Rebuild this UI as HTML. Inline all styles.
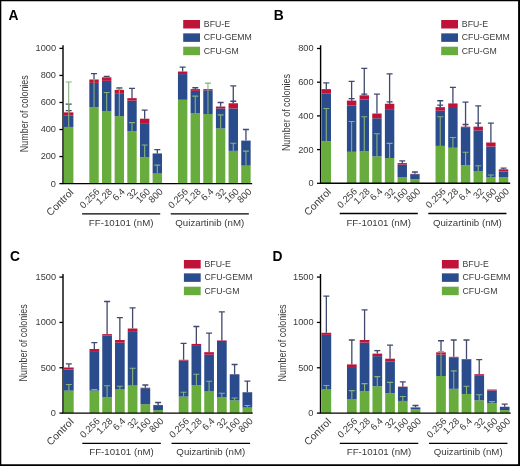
<!DOCTYPE html>
<html><head><meta charset="utf-8"><style>
html,body{margin:0;padding:0;background:#fff;}
body{width:520px;height:466px;overflow:hidden;}
svg{display:block;filter:blur(0.3px);}
</style></head><body>
<svg width="520" height="466" viewBox="0 0 520 466" font-family='"Liberation Sans", sans-serif'>
<rect x="0" y="0" width="520" height="466" fill="#fff"/>
<g id="panelA">
<text x="8.6" y="19.7" font-size="13.8" font-weight="bold" fill="#000">A</text>
<rect x="183.2" y="20" width="16.8" height="8.5" fill="#bf1238"/>
<text transform="translate(203.8 26.9) scale(0.95 1)" font-size="9.2" fill="#3a3a3a">BFU-E</text>
<rect x="183.2" y="33.35" width="16.8" height="8.5" fill="#2b4c8c"/>
<text transform="translate(203.8 40.25) scale(0.95 1)" font-size="9.2" fill="#3a3a3a">CFU-GEMM</text>
<rect x="183.2" y="46.7" width="16.8" height="8.5" fill="#68ac3e"/>
<text transform="translate(203.8 53.6) scale(0.95 1)" font-size="9.2" fill="#3a3a3a">CFU-GM</text>
<rect x="64" y="126.95" width="9.4" height="56.65" fill="#68ac3e"/>
<rect x="64" y="115.73" width="9.4" height="11.22" fill="#2b4c8c"/>
<rect x="64" y="112.35" width="9.4" height="3.38" fill="#bf1238"/>
<path d="M68.7 112.35V104.1M65.7 104.1H71.7" stroke="#3f4a6e" stroke-width="1.3" fill="none"/>
<path d="M68.7 112.35V110.59M65.7 110.59H71.7" stroke="#3f4a6e" stroke-width="1.3" fill="none"/>
<path d="M68.7 126.95V81.93M65.7 81.93H71.7" stroke="#86b27a" stroke-width="1.1" fill="none"/>
<text x="74.1" y="193" font-size="10.3" fill="#3a3a3a" text-anchor="end" transform="rotate(-45 74.1 193)">Control</text>
<rect x="89.32" y="107.08" width="9.4" height="76.52" fill="#68ac3e"/>
<rect x="89.32" y="82.88" width="9.4" height="24.2" fill="#2b4c8c"/>
<rect x="89.32" y="79.5" width="9.4" height="3.38" fill="#bf1238"/>
<path d="M94.02 79.5V73.68M91.02 73.68H97.02" stroke="#3f4a6e" stroke-width="1.3" fill="none"/>
<path d="M94.02 107.08V79.5M91.02 79.5H97.02" stroke="#86b27a" stroke-width="1.1" fill="none"/>
<text x="100.22" y="192.2" font-size="9.5" fill="#3a3a3a" text-anchor="end" transform="rotate(-45 100.22 192.2)">0.256</text>
<rect x="101.98" y="111" width="9.4" height="72.6" fill="#68ac3e"/>
<rect x="101.98" y="80.85" width="9.4" height="30.15" fill="#2b4c8c"/>
<rect x="101.98" y="77.33" width="9.4" height="3.52" fill="#bf1238"/>
<path d="M106.68 77.33V76.39M103.68 76.39H109.68" stroke="#3f4a6e" stroke-width="1.3" fill="none"/>
<path d="M106.68 111V92.48M103.68 92.48H109.68" stroke="#86b27a" stroke-width="1.1" fill="none"/>
<text x="112.88" y="192.2" font-size="9.5" fill="#3a3a3a" text-anchor="end" transform="rotate(-45 112.88 192.2)">1.28</text>
<rect x="114.64" y="116.14" width="9.4" height="67.46" fill="#68ac3e"/>
<rect x="114.64" y="93.83" width="9.4" height="22.31" fill="#2b4c8c"/>
<rect x="114.64" y="89.91" width="9.4" height="3.92" fill="#bf1238"/>
<path d="M119.34 89.91V88.01M116.34 88.01H122.34" stroke="#3f4a6e" stroke-width="1.3" fill="none"/>
<path d="M119.34 116.14V88.96M116.34 88.96H122.34" stroke="#86b27a" stroke-width="1.1" fill="none"/>
<text x="125.54" y="192.2" font-size="9.5" fill="#3a3a3a" text-anchor="end" transform="rotate(-45 125.54 192.2)">6.4</text>
<rect x="127.3" y="131.14" width="9.4" height="52.46" fill="#68ac3e"/>
<rect x="127.3" y="100.59" width="9.4" height="30.56" fill="#2b4c8c"/>
<rect x="127.3" y="98.15" width="9.4" height="2.43" fill="#bf1238"/>
<path d="M132 98.15V88.28M129 88.28H135" stroke="#3f4a6e" stroke-width="1.3" fill="none"/>
<path d="M132 131.14V122.62M129 122.62H135" stroke="#86b27a" stroke-width="1.1" fill="none"/>
<text x="138.2" y="192.2" font-size="9.5" fill="#3a3a3a" text-anchor="end" transform="rotate(-45 138.2 192.2)">32</text>
<rect x="139.96" y="157.37" width="9.4" height="26.23" fill="#68ac3e"/>
<rect x="139.96" y="123.84" width="9.4" height="33.53" fill="#2b4c8c"/>
<rect x="139.96" y="118.7" width="9.4" height="5.14" fill="#bf1238"/>
<path d="M144.66 118.7V110.19M141.66 110.19H147.66" stroke="#3f4a6e" stroke-width="1.3" fill="none"/>
<path d="M144.66 157.37V144.93M141.66 144.93H147.66" stroke="#86b27a" stroke-width="1.1" fill="none"/>
<text x="150.86" y="192.2" font-size="9.5" fill="#3a3a3a" text-anchor="end" transform="rotate(-45 150.86 192.2)">160</text>
<rect x="152.62" y="173.6" width="9.4" height="10" fill="#68ac3e"/>
<rect x="152.62" y="153.45" width="9.4" height="20.14" fill="#2b4c8c"/>
<path d="M157.32 153.45V149.53M154.32 149.53H160.32" stroke="#3f4a6e" stroke-width="1.3" fill="none"/>
<path d="M157.32 173.6V165.08M154.32 165.08H160.32" stroke="#86b27a" stroke-width="1.1" fill="none"/>
<text x="163.52" y="192.2" font-size="9.5" fill="#3a3a3a" text-anchor="end" transform="rotate(-45 163.52 192.2)">800</text>
<rect x="177.94" y="99.78" width="9.4" height="83.82" fill="#68ac3e"/>
<rect x="177.94" y="74.09" width="9.4" height="25.69" fill="#2b4c8c"/>
<rect x="177.94" y="71.52" width="9.4" height="2.57" fill="#bf1238"/>
<path d="M182.64 71.52V67.19M179.64 67.19H185.64" stroke="#3f4a6e" stroke-width="1.3" fill="none"/>
<text x="188.84" y="192.2" font-size="9.5" fill="#3a3a3a" text-anchor="end" transform="rotate(-45 188.84 192.2)">0.256</text>
<rect x="190.6" y="113.03" width="9.4" height="70.57" fill="#68ac3e"/>
<rect x="190.6" y="90.85" width="9.4" height="22.17" fill="#2b4c8c"/>
<rect x="190.6" y="89.1" width="9.4" height="1.76" fill="#bf1238"/>
<path d="M195.3 89.1V87.74M192.3 87.74H198.3" stroke="#3f4a6e" stroke-width="1.3" fill="none"/>
<path d="M195.3 113.03V96.13M192.3 96.13H198.3" stroke="#86b27a" stroke-width="1.1" fill="none"/>
<text x="201.5" y="192.2" font-size="9.5" fill="#3a3a3a" text-anchor="end" transform="rotate(-45 201.5 192.2)">1.28</text>
<rect x="203.26" y="114.11" width="9.4" height="69.49" fill="#68ac3e"/>
<rect x="203.26" y="90.31" width="9.4" height="23.8" fill="#2b4c8c"/>
<rect x="203.26" y="89.1" width="9.4" height="1.22" fill="#bf1238"/>
<path d="M207.96 114.11V83.15M204.96 83.15H210.96" stroke="#86b27a" stroke-width="1.1" fill="none"/>
<text x="214.16" y="192.2" font-size="9.5" fill="#3a3a3a" text-anchor="end" transform="rotate(-45 214.16 192.2)">6.4</text>
<rect x="215.92" y="128.44" width="9.4" height="55.16" fill="#68ac3e"/>
<rect x="215.92" y="108.43" width="9.4" height="20.01" fill="#2b4c8c"/>
<rect x="215.92" y="106.54" width="9.4" height="1.89" fill="#bf1238"/>
<path d="M220.62 106.54V102.48M217.62 102.48H223.62" stroke="#3f4a6e" stroke-width="1.3" fill="none"/>
<path d="M220.62 128.44V114.92M217.62 114.92H223.62" stroke="#86b27a" stroke-width="1.1" fill="none"/>
<text x="226.82" y="192.2" font-size="9.5" fill="#3a3a3a" text-anchor="end" transform="rotate(-45 226.82 192.2)">32</text>
<rect x="228.58" y="150.88" width="9.4" height="32.72" fill="#68ac3e"/>
<rect x="228.58" y="108.43" width="9.4" height="42.45" fill="#2b4c8c"/>
<rect x="228.58" y="103.29" width="9.4" height="5.14" fill="#bf1238"/>
<path d="M233.28 103.29V85.85M230.28 85.85H236.28" stroke="#3f4a6e" stroke-width="1.3" fill="none"/>
<path d="M233.28 103.29V101.26M230.28 101.26H236.28" stroke="#3f4a6e" stroke-width="1.3" fill="none"/>
<path d="M233.28 150.88V143.18M230.28 143.18H236.28" stroke="#86b27a" stroke-width="1.1" fill="none"/>
<text x="239.48" y="192.2" font-size="9.5" fill="#3a3a3a" text-anchor="end" transform="rotate(-45 239.48 192.2)">160</text>
<rect x="241.24" y="165.62" width="9.4" height="17.98" fill="#68ac3e"/>
<rect x="241.24" y="140.61" width="9.4" height="25.01" fill="#2b4c8c"/>
<path d="M245.94 140.61V129.52M242.94 129.52H248.94" stroke="#3f4a6e" stroke-width="1.3" fill="none"/>
<path d="M245.94 165.62V151.15M242.94 151.15H248.94" stroke="#86b27a" stroke-width="1.1" fill="none"/>
<text x="252.14" y="192.2" font-size="9.5" fill="#3a3a3a" text-anchor="end" transform="rotate(-45 252.14 192.2)">800</text>
<path d="M63 45.2V183.6H252.2" stroke="#000" stroke-width="1.4" fill="none"/>
<path d="M59.4 183.6H63" stroke="#000" stroke-width="1.3"/>
<text transform="translate(56 186.5) scale(0.94 1)" font-size="9.8" fill="#3a3a3a" text-anchor="end">0</text>
<path d="M59.4 156.56H63" stroke="#000" stroke-width="1.3"/>
<text transform="translate(56 159.46) scale(0.94 1)" font-size="9.8" fill="#3a3a3a" text-anchor="end">200</text>
<path d="M59.4 129.52H63" stroke="#000" stroke-width="1.3"/>
<text transform="translate(56 132.42) scale(0.94 1)" font-size="9.8" fill="#3a3a3a" text-anchor="end">400</text>
<path d="M59.4 102.48H63" stroke="#000" stroke-width="1.3"/>
<text transform="translate(56 105.38) scale(0.94 1)" font-size="9.8" fill="#3a3a3a" text-anchor="end">600</text>
<path d="M59.4 75.44H63" stroke="#000" stroke-width="1.3"/>
<text transform="translate(56 78.34) scale(0.94 1)" font-size="9.8" fill="#3a3a3a" text-anchor="end">800</text>
<path d="M59.4 48.4H63" stroke="#000" stroke-width="1.3"/>
<text transform="translate(56 51.3) scale(0.94 1)" font-size="9.8" fill="#3a3a3a" text-anchor="end">1000</text>
<text x="28" y="113.7" font-size="10.5" fill="#3a3a3a" text-anchor="middle" textLength="77" lengthAdjust="spacingAndGlyphs" transform="rotate(-90 28 113.7)">Number of colonies</text>
<path d="M82.12 213.8H160.22" stroke="#000" stroke-width="1.3"/>
<text x="121.17" y="225.8" font-size="9.7" fill="#3a3a3a" text-anchor="middle">FF-10101 (nM)</text>
<path d="M170.74 213.8H248.84" stroke="#000" stroke-width="1.3"/>
<text x="209.79" y="225.8" font-size="9.7" fill="#3a3a3a" text-anchor="middle">Quizartinib (nM)</text>
</g>
<g id="panelB">
<text x="273.7" y="19.7" font-size="13.8" font-weight="bold" fill="#000">B</text>
<rect x="441.2" y="20" width="16.8" height="8.5" fill="#bf1238"/>
<text transform="translate(461.8 26.9) scale(0.95 1)" font-size="9.2" fill="#3a3a3a">BFU-E</text>
<rect x="441.2" y="33.35" width="16.8" height="8.5" fill="#2b4c8c"/>
<text transform="translate(461.8 40.25) scale(0.95 1)" font-size="9.2" fill="#3a3a3a">CFU-GEMM</text>
<rect x="441.2" y="46.7" width="16.8" height="8.5" fill="#68ac3e"/>
<text transform="translate(461.8 53.6) scale(0.95 1)" font-size="9.2" fill="#3a3a3a">CFU-GM</text>
<rect x="321.6" y="141.18" width="9.4" height="42.12" fill="#68ac3e"/>
<rect x="321.6" y="93.66" width="9.4" height="47.52" fill="#2b4c8c"/>
<rect x="321.6" y="89.11" width="9.4" height="4.55" fill="#bf1238"/>
<path d="M326.3 89.11V82.87M323.3 82.87H329.3" stroke="#3f4a6e" stroke-width="1.3" fill="none"/>
<path d="M326.3 141.18V108.49M323.3 108.49H329.3" stroke="#86b27a" stroke-width="1.1" fill="none"/>
<text x="331.7" y="192.7" font-size="10.3" fill="#3a3a3a" text-anchor="end" transform="rotate(-45 331.7 192.7)">Control</text>
<rect x="346.92" y="151.79" width="9.4" height="31.51" fill="#68ac3e"/>
<rect x="346.92" y="105.45" width="9.4" height="46.34" fill="#2b4c8c"/>
<rect x="346.92" y="100.57" width="9.4" height="4.89" fill="#bf1238"/>
<path d="M351.62 100.57V81.36M348.62 81.36H354.62" stroke="#3f4a6e" stroke-width="1.3" fill="none"/>
<path d="M351.62 100.57V98.71M348.62 98.71H354.62" stroke="#3f4a6e" stroke-width="1.3" fill="none"/>
<path d="M351.62 151.79V121.46M348.62 121.46H354.62" stroke="#86b27a" stroke-width="1.1" fill="none"/>
<text x="357.82" y="191.9" font-size="9.5" fill="#3a3a3a" text-anchor="end" transform="rotate(-45 357.82 191.9)">0.256</text>
<rect x="359.58" y="151.12" width="9.4" height="32.18" fill="#68ac3e"/>
<rect x="359.58" y="99.56" width="9.4" height="51.56" fill="#2b4c8c"/>
<rect x="359.58" y="95.34" width="9.4" height="4.21" fill="#bf1238"/>
<path d="M364.28 95.34V68.38M361.28 68.38H367.28" stroke="#3f4a6e" stroke-width="1.3" fill="none"/>
<path d="M364.28 95.34V94.16M361.28 94.16H367.28" stroke="#3f4a6e" stroke-width="1.3" fill="none"/>
<path d="M364.28 151.12V116.74M361.28 116.74H367.28" stroke="#86b27a" stroke-width="1.1" fill="none"/>
<text x="370.48" y="191.9" font-size="9.5" fill="#3a3a3a" text-anchor="end" transform="rotate(-45 370.48 191.9)">1.28</text>
<rect x="372.24" y="156.34" width="9.4" height="26.96" fill="#68ac3e"/>
<rect x="372.24" y="118.26" width="9.4" height="38.08" fill="#2b4c8c"/>
<rect x="372.24" y="113.54" width="9.4" height="4.72" fill="#bf1238"/>
<path d="M376.94 113.54V94.16M373.94 94.16H379.94" stroke="#3f4a6e" stroke-width="1.3" fill="none"/>
<path d="M376.94 156.34V133.76M373.94 133.76H379.94" stroke="#86b27a" stroke-width="1.1" fill="none"/>
<text x="383.14" y="191.9" font-size="9.5" fill="#3a3a3a" text-anchor="end" transform="rotate(-45 383.14 191.9)">6.4</text>
<rect x="384.9" y="158.03" width="9.4" height="25.28" fill="#68ac3e"/>
<rect x="384.9" y="109.83" width="9.4" height="48.19" fill="#2b4c8c"/>
<rect x="384.9" y="103.77" width="9.4" height="6.07" fill="#bf1238"/>
<path d="M389.6 103.77V73.78M386.6 73.78H392.6" stroke="#3f4a6e" stroke-width="1.3" fill="none"/>
<path d="M389.6 103.77V101.91M386.6 101.91H392.6" stroke="#3f4a6e" stroke-width="1.3" fill="none"/>
<path d="M389.6 158.03V143.37M386.6 143.37H392.6" stroke="#86b27a" stroke-width="1.1" fill="none"/>
<text x="395.8" y="191.9" font-size="9.5" fill="#3a3a3a" text-anchor="end" transform="rotate(-45 395.8 191.9)">32</text>
<rect x="397.56" y="177.07" width="9.4" height="6.23" fill="#68ac3e"/>
<rect x="397.56" y="164.6" width="9.4" height="12.47" fill="#2b4c8c"/>
<rect x="397.56" y="163.08" width="9.4" height="1.52" fill="#bf1238"/>
<path d="M402.26 163.08V160.89M399.26 160.89H405.26" stroke="#3f4a6e" stroke-width="1.3" fill="none"/>
<text x="408.46" y="191.9" font-size="9.5" fill="#3a3a3a" text-anchor="end" transform="rotate(-45 408.46 191.9)">160</text>
<rect x="410.22" y="179.26" width="9.4" height="4.04" fill="#68ac3e"/>
<rect x="410.22" y="174.2" width="9.4" height="5.05" fill="#2b4c8c"/>
<rect x="410.22" y="173.86" width="9.4" height="0.34" fill="#bf1238"/>
<path d="M414.92 173.86V172.01M411.92 172.01H417.92" stroke="#3f4a6e" stroke-width="1.3" fill="none"/>
<text x="421.12" y="191.9" font-size="9.5" fill="#3a3a3a" text-anchor="end" transform="rotate(-45 421.12 191.9)">800</text>
<rect x="435.54" y="145.89" width="9.4" height="37.41" fill="#68ac3e"/>
<rect x="435.54" y="110.68" width="9.4" height="35.22" fill="#2b4c8c"/>
<rect x="435.54" y="107.14" width="9.4" height="3.54" fill="#bf1238"/>
<path d="M440.24 107.14V100.73M437.24 100.73H443.24" stroke="#3f4a6e" stroke-width="1.3" fill="none"/>
<path d="M440.24 107.14V105.12M437.24 105.12H443.24" stroke="#3f4a6e" stroke-width="1.3" fill="none"/>
<path d="M440.24 145.89V116.74M437.24 116.74H443.24" stroke="#86b27a" stroke-width="1.1" fill="none"/>
<text x="446.44" y="191.9" font-size="9.5" fill="#3a3a3a" text-anchor="end" transform="rotate(-45 446.44 191.9)">0.256</text>
<rect x="448.2" y="147.75" width="9.4" height="35.55" fill="#68ac3e"/>
<rect x="448.2" y="107.98" width="9.4" height="39.77" fill="#2b4c8c"/>
<rect x="448.2" y="103.43" width="9.4" height="4.55" fill="#bf1238"/>
<path d="M452.9 103.43V87.42M449.9 87.42H455.9" stroke="#3f4a6e" stroke-width="1.3" fill="none"/>
<path d="M452.9 147.75V137.47M449.9 137.47H455.9" stroke="#86b27a" stroke-width="1.1" fill="none"/>
<text x="459.1" y="191.9" font-size="9.5" fill="#3a3a3a" text-anchor="end" transform="rotate(-45 459.1 191.9)">1.28</text>
<rect x="460.86" y="165.27" width="9.4" height="18.03" fill="#68ac3e"/>
<rect x="460.86" y="127.86" width="9.4" height="37.41" fill="#2b4c8c"/>
<rect x="460.86" y="126.68" width="9.4" height="1.18" fill="#bf1238"/>
<path d="M465.56 126.68V102.08M462.56 102.08H468.56" stroke="#3f4a6e" stroke-width="1.3" fill="none"/>
<path d="M465.56 126.68V124.49M462.56 124.49H468.56" stroke="#3f4a6e" stroke-width="1.3" fill="none"/>
<path d="M465.56 165.27V152.3M462.56 152.3H468.56" stroke="#86b27a" stroke-width="1.1" fill="none"/>
<text x="471.76" y="191.9" font-size="9.5" fill="#3a3a3a" text-anchor="end" transform="rotate(-45 471.76 191.9)">6.4</text>
<rect x="473.52" y="171" width="9.4" height="12.3" fill="#68ac3e"/>
<rect x="473.52" y="130.39" width="9.4" height="40.61" fill="#2b4c8c"/>
<rect x="473.52" y="126.68" width="9.4" height="3.71" fill="#bf1238"/>
<path d="M478.22 126.68V105.96M475.22 105.96H481.22" stroke="#3f4a6e" stroke-width="1.3" fill="none"/>
<path d="M478.22 126.68V123.15M475.22 123.15H481.22" stroke="#3f4a6e" stroke-width="1.3" fill="none"/>
<path d="M478.22 171V165.78M475.22 165.78H481.22" stroke="#86b27a" stroke-width="1.1" fill="none"/>
<text x="484.42" y="191.9" font-size="9.5" fill="#3a3a3a" text-anchor="end" transform="rotate(-45 484.42 191.9)">32</text>
<rect x="486.18" y="177.07" width="9.4" height="6.23" fill="#68ac3e"/>
<rect x="486.18" y="146.57" width="9.4" height="30.5" fill="#2b4c8c"/>
<rect x="486.18" y="142.52" width="9.4" height="4.04" fill="#bf1238"/>
<path d="M490.88 142.52V123.15M487.88 123.15H493.88" stroke="#3f4a6e" stroke-width="1.3" fill="none"/>
<path d="M490.88 177.07V175.04M487.88 175.04H493.88" stroke="#86b27a" stroke-width="1.1" fill="none"/>
<text x="497.08" y="191.9" font-size="9.5" fill="#3a3a3a" text-anchor="end" transform="rotate(-45 497.08 191.9)">160</text>
<rect x="498.84" y="177.07" width="9.4" height="6.23" fill="#68ac3e"/>
<rect x="498.84" y="171.51" width="9.4" height="5.56" fill="#2b4c8c"/>
<rect x="498.84" y="169.31" width="9.4" height="2.19" fill="#bf1238"/>
<path d="M503.54 169.31V168.14M500.54 168.14H506.54" stroke="#3f4a6e" stroke-width="1.3" fill="none"/>
<text x="509.74" y="191.9" font-size="9.5" fill="#3a3a3a" text-anchor="end" transform="rotate(-45 509.74 191.9)">800</text>
<path d="M320.6 45.3V183.3H510.2" stroke="#000" stroke-width="1.4" fill="none"/>
<path d="M317 183.3H320.6" stroke="#000" stroke-width="1.3"/>
<text transform="translate(313.6 186.2) scale(0.94 1)" font-size="9.8" fill="#3a3a3a" text-anchor="end">0</text>
<path d="M317 149.6H320.6" stroke="#000" stroke-width="1.3"/>
<text transform="translate(313.6 152.5) scale(0.94 1)" font-size="9.8" fill="#3a3a3a" text-anchor="end">200</text>
<path d="M317 115.9H320.6" stroke="#000" stroke-width="1.3"/>
<text transform="translate(313.6 118.8) scale(0.94 1)" font-size="9.8" fill="#3a3a3a" text-anchor="end">400</text>
<path d="M317 82.2H320.6" stroke="#000" stroke-width="1.3"/>
<text transform="translate(313.6 85.1) scale(0.94 1)" font-size="9.8" fill="#3a3a3a" text-anchor="end">600</text>
<path d="M317 48.5H320.6" stroke="#000" stroke-width="1.3"/>
<text transform="translate(313.6 51.4) scale(0.94 1)" font-size="9.8" fill="#3a3a3a" text-anchor="end">800</text>
<text x="290.5" y="112.6" font-size="10.5" fill="#3a3a3a" text-anchor="middle" textLength="77" lengthAdjust="spacingAndGlyphs" transform="rotate(-90 290.5 112.6)">Number of colonies</text>
<path d="M339.72 213.5H417.82" stroke="#000" stroke-width="1.3"/>
<text x="378.77" y="225.5" font-size="9.7" fill="#3a3a3a" text-anchor="middle">FF-10101 (nM)</text>
<path d="M428.34 213.5H506.44" stroke="#000" stroke-width="1.3"/>
<text x="467.39" y="225.5" font-size="9.7" fill="#3a3a3a" text-anchor="middle">Quizartinib (nM)</text>
</g>
<g id="panelC">
<text x="10" y="261" font-size="13.8" font-weight="bold" fill="#000">C</text>
<rect x="183.9" y="260" width="16.8" height="8.5" fill="#bf1238"/>
<text transform="translate(204.5 266.9) scale(0.95 1)" font-size="9.2" fill="#3a3a3a">BFU-E</text>
<rect x="183.9" y="273.35" width="16.8" height="8.5" fill="#2b4c8c"/>
<text transform="translate(204.5 280.25) scale(0.95 1)" font-size="9.2" fill="#3a3a3a">CFU-GEMM</text>
<rect x="183.9" y="286.7" width="16.8" height="8.5" fill="#68ac3e"/>
<text transform="translate(204.5 293.6) scale(0.95 1)" font-size="9.2" fill="#3a3a3a">CFU-GM</text>
<rect x="64" y="390.61" width="9.7" height="22.49" fill="#68ac3e"/>
<rect x="64" y="369.49" width="9.7" height="21.13" fill="#2b4c8c"/>
<rect x="64" y="367.49" width="9.7" height="1.99" fill="#bf1238"/>
<path d="M68.85 367.49V363.96M65.85 363.96H71.85" stroke="#3f4a6e" stroke-width="1.3" fill="none"/>
<path d="M68.85 390.61V384.45M65.85 384.45H71.85" stroke="#86b27a" stroke-width="1.1" fill="none"/>
<text x="74.25" y="422.5" font-size="10.3" fill="#3a3a3a" text-anchor="end" transform="rotate(-45 74.25 422.5)">Control</text>
<rect x="89.5" y="390.61" width="9.7" height="22.49" fill="#68ac3e"/>
<rect x="89.5" y="351.08" width="9.7" height="39.53" fill="#2b4c8c"/>
<rect x="89.5" y="349" width="9.7" height="2.09" fill="#bf1238"/>
<path d="M94.35 349V342.56M91.35 342.56H97.35" stroke="#3f4a6e" stroke-width="1.3" fill="none"/>
<path d="M94.35 390.61V389.53M91.35 389.53H97.35" stroke="#86b27a" stroke-width="1.1" fill="none"/>
<text x="100.55" y="421.7" font-size="9.5" fill="#3a3a3a" text-anchor="end" transform="rotate(-45 100.55 421.7)">0.256</text>
<rect x="102.25" y="397.32" width="9.7" height="15.78" fill="#68ac3e"/>
<rect x="102.25" y="335.67" width="9.7" height="61.65" fill="#2b4c8c"/>
<rect x="102.25" y="334.13" width="9.7" height="1.54" fill="#bf1238"/>
<path d="M107.1 334.13V301.49M104.1 301.49H110.1" stroke="#3f4a6e" stroke-width="1.3" fill="none"/>
<path d="M107.1 397.32V385.81M104.1 385.81H110.1" stroke="#86b27a" stroke-width="1.1" fill="none"/>
<text x="113.3" y="421.7" font-size="9.5" fill="#3a3a3a" text-anchor="end" transform="rotate(-45 113.3 421.7)">1.28</text>
<rect x="115" y="389.53" width="9.7" height="23.57" fill="#68ac3e"/>
<rect x="115" y="342.65" width="9.7" height="46.87" fill="#2b4c8c"/>
<rect x="115" y="340.02" width="9.7" height="2.63" fill="#bf1238"/>
<path d="M119.85 340.02V317.72M116.85 317.72H122.85" stroke="#3f4a6e" stroke-width="1.3" fill="none"/>
<path d="M119.85 389.53V386.26M116.85 386.26H122.85" stroke="#86b27a" stroke-width="1.1" fill="none"/>
<text x="126.05" y="421.7" font-size="9.5" fill="#3a3a3a" text-anchor="end" transform="rotate(-45 126.05 421.7)">6.4</text>
<rect x="127.75" y="385.54" width="9.7" height="27.56" fill="#68ac3e"/>
<rect x="127.75" y="331.14" width="9.7" height="54.4" fill="#2b4c8c"/>
<rect x="127.75" y="328.51" width="9.7" height="2.63" fill="#bf1238"/>
<path d="M132.6 328.51V307.93M129.6 307.93H135.6" stroke="#3f4a6e" stroke-width="1.3" fill="none"/>
<path d="M132.6 385.54V368.31M129.6 368.31H135.6" stroke="#86b27a" stroke-width="1.1" fill="none"/>
<text x="138.8" y="421.7" font-size="9.5" fill="#3a3a3a" text-anchor="end" transform="rotate(-45 138.8 421.7)">32</text>
<rect x="140.5" y="404.21" width="9.7" height="8.89" fill="#68ac3e"/>
<rect x="140.5" y="388.17" width="9.7" height="16.05" fill="#2b4c8c"/>
<rect x="140.5" y="387.71" width="9.7" height="0.45" fill="#bf1238"/>
<path d="M145.35 387.71V384.99M142.35 384.99H148.35" stroke="#3f4a6e" stroke-width="1.3" fill="none"/>
<text x="151.55" y="421.7" font-size="9.5" fill="#3a3a3a" text-anchor="end" transform="rotate(-45 151.55 421.7)">160</text>
<rect x="153.25" y="410.11" width="9.7" height="2.99" fill="#68ac3e"/>
<rect x="153.25" y="405.12" width="9.7" height="4.99" fill="#2b4c8c"/>
<rect x="153.25" y="404.94" width="9.7" height="0.18" fill="#bf1238"/>
<path d="M158.1 404.94V402.49M155.1 402.49H161.1" stroke="#3f4a6e" stroke-width="1.3" fill="none"/>
<text x="164.3" y="421.7" font-size="9.5" fill="#3a3a3a" text-anchor="end" transform="rotate(-45 164.3 421.7)">800</text>
<rect x="178.75" y="396.6" width="9.7" height="16.5" fill="#68ac3e"/>
<rect x="178.75" y="360.51" width="9.7" height="36.09" fill="#2b4c8c"/>
<rect x="178.75" y="359.79" width="9.7" height="0.73" fill="#bf1238"/>
<path d="M183.6 359.79V343.47M180.6 343.47H186.6" stroke="#3f4a6e" stroke-width="1.3" fill="none"/>
<path d="M183.6 396.6V392.25M180.6 392.25H186.6" stroke="#86b27a" stroke-width="1.1" fill="none"/>
<text x="189.8" y="421.7" font-size="9.5" fill="#3a3a3a" text-anchor="end" transform="rotate(-45 189.8 421.7)">0.256</text>
<rect x="191.5" y="384.99" width="9.7" height="28.11" fill="#68ac3e"/>
<rect x="191.5" y="345.92" width="9.7" height="39.08" fill="#2b4c8c"/>
<rect x="191.5" y="343.92" width="9.7" height="1.99" fill="#bf1238"/>
<path d="M196.35 343.92V326.51M193.35 326.51H199.35" stroke="#3f4a6e" stroke-width="1.3" fill="none"/>
<path d="M196.35 384.99V374.29M193.35 374.29H199.35" stroke="#86b27a" stroke-width="1.1" fill="none"/>
<text x="202.55" y="421.7" font-size="9.5" fill="#3a3a3a" text-anchor="end" transform="rotate(-45 202.55 421.7)">1.28</text>
<rect x="204.25" y="391.43" width="9.7" height="21.67" fill="#68ac3e"/>
<rect x="204.25" y="354.71" width="9.7" height="36.72" fill="#2b4c8c"/>
<rect x="204.25" y="352.17" width="9.7" height="2.54" fill="#bf1238"/>
<path d="M209.1 352.17V333.22M206.1 333.22H212.1" stroke="#3f4a6e" stroke-width="1.3" fill="none"/>
<path d="M209.1 391.43V381.19M206.1 381.19H212.1" stroke="#86b27a" stroke-width="1.1" fill="none"/>
<text x="215.3" y="421.7" font-size="9.5" fill="#3a3a3a" text-anchor="end" transform="rotate(-45 215.3 421.7)">6.4</text>
<rect x="217" y="397.32" width="9.7" height="15.78" fill="#68ac3e"/>
<rect x="217" y="340.93" width="9.7" height="56.39" fill="#2b4c8c"/>
<rect x="217" y="340.39" width="9.7" height="0.54" fill="#bf1238"/>
<path d="M221.85 340.39V311.83M218.85 311.83H224.85" stroke="#3f4a6e" stroke-width="1.3" fill="none"/>
<path d="M221.85 397.32V393.24M218.85 393.24H224.85" stroke="#86b27a" stroke-width="1.1" fill="none"/>
<text x="228.05" y="421.7" font-size="9.5" fill="#3a3a3a" text-anchor="end" transform="rotate(-45 228.05 421.7)">32</text>
<rect x="229.75" y="400.41" width="9.7" height="12.69" fill="#68ac3e"/>
<rect x="229.75" y="374.29" width="9.7" height="26.11" fill="#2b4c8c"/>
<rect x="229.75" y="374.2" width="9.7" height="0.09" fill="#bf1238"/>
<path d="M234.6 374.2V364.5M231.6 364.5H237.6" stroke="#3f4a6e" stroke-width="1.3" fill="none"/>
<path d="M234.6 400.41V397.96M231.6 397.96H237.6" stroke="#86b27a" stroke-width="1.1" fill="none"/>
<text x="240.8" y="421.7" font-size="9.5" fill="#3a3a3a" text-anchor="end" transform="rotate(-45 240.8 421.7)">160</text>
<rect x="242.5" y="407.57" width="9.7" height="5.53" fill="#68ac3e"/>
<rect x="242.5" y="392.25" width="9.7" height="15.32" fill="#2b4c8c"/>
<path d="M247.35 392.25V381.19M244.35 381.19H250.35" stroke="#3f4a6e" stroke-width="1.3" fill="none"/>
<path d="M247.35 407.57V405.57M244.35 405.57H250.35" stroke="#86b27a" stroke-width="1.1" fill="none"/>
<text x="253.55" y="421.7" font-size="9.5" fill="#3a3a3a" text-anchor="end" transform="rotate(-45 253.55 421.7)">800</text>
<path d="M63 273.9V413.1H252.7" stroke="#000" stroke-width="1.4" fill="none"/>
<path d="M59.4 413.1H63" stroke="#000" stroke-width="1.3"/>
<text transform="translate(56 416) scale(0.94 1)" font-size="9.8" fill="#3a3a3a" text-anchor="end">0</text>
<path d="M59.4 367.77H63" stroke="#000" stroke-width="1.3"/>
<text transform="translate(56 370.67) scale(0.94 1)" font-size="9.8" fill="#3a3a3a" text-anchor="end">500</text>
<path d="M59.4 322.43H63" stroke="#000" stroke-width="1.3"/>
<text transform="translate(56 325.33) scale(0.94 1)" font-size="9.8" fill="#3a3a3a" text-anchor="end">1000</text>
<path d="M59.4 277.1H63" stroke="#000" stroke-width="1.3"/>
<text transform="translate(56 280) scale(0.94 1)" font-size="9.8" fill="#3a3a3a" text-anchor="end">1500</text>
<text x="27.3" y="342.9" font-size="10.5" fill="#3a3a3a" text-anchor="middle" textLength="77" lengthAdjust="spacingAndGlyphs" transform="rotate(-90 27.3 342.9)">Number of colonies</text>
<path d="M82.3 443.3H160.85" stroke="#000" stroke-width="1.3"/>
<text x="121.57" y="455.3" font-size="9.7" fill="#3a3a3a" text-anchor="middle">FF-10101 (nM)</text>
<path d="M171.55 443.3H250.1" stroke="#000" stroke-width="1.3"/>
<text x="210.82" y="455.3" font-size="9.7" fill="#3a3a3a" text-anchor="middle">Quizartinib (nM)</text>
</g>
<g id="panelD">
<text x="272.4" y="261" font-size="13.8" font-weight="bold" fill="#000">D</text>
<rect x="441.9" y="260" width="16.8" height="8.5" fill="#bf1238"/>
<text transform="translate(462.5 266.9) scale(0.95 1)" font-size="9.2" fill="#3a3a3a">BFU-E</text>
<rect x="441.9" y="273.35" width="16.8" height="8.5" fill="#2b4c8c"/>
<text transform="translate(462.5 280.25) scale(0.95 1)" font-size="9.2" fill="#3a3a3a">CFU-GEMM</text>
<rect x="441.9" y="286.7" width="16.8" height="8.5" fill="#68ac3e"/>
<text transform="translate(462.5 293.6) scale(0.95 1)" font-size="9.2" fill="#3a3a3a">CFU-GM</text>
<rect x="321.5" y="389.53" width="9.7" height="23.57" fill="#68ac3e"/>
<rect x="321.5" y="334.85" width="9.7" height="54.67" fill="#2b4c8c"/>
<rect x="321.5" y="332.77" width="9.7" height="2.09" fill="#bf1238"/>
<path d="M326.35 332.77V296.05M323.35 296.05H329.35" stroke="#3f4a6e" stroke-width="1.3" fill="none"/>
<path d="M326.35 389.53V385.45M323.35 385.45H329.35" stroke="#86b27a" stroke-width="1.1" fill="none"/>
<text x="331.75" y="422.5" font-size="10.3" fill="#3a3a3a" text-anchor="end" transform="rotate(-45 331.75 422.5)">Control</text>
<rect x="346.98" y="399.05" width="9.7" height="14.05" fill="#68ac3e"/>
<rect x="346.98" y="367.04" width="9.7" height="32.01" fill="#2b4c8c"/>
<rect x="346.98" y="364.41" width="9.7" height="2.63" fill="#bf1238"/>
<path d="M351.83 364.41V340.02M348.83 340.02H354.83" stroke="#3f4a6e" stroke-width="1.3" fill="none"/>
<path d="M351.83 399.05V390.61M348.83 390.61H354.83" stroke="#86b27a" stroke-width="1.1" fill="none"/>
<text x="358.03" y="421.7" font-size="9.5" fill="#3a3a3a" text-anchor="end" transform="rotate(-45 358.03 421.7)">0.256</text>
<rect x="359.72" y="391.34" width="9.7" height="21.76" fill="#68ac3e"/>
<rect x="359.72" y="342.56" width="9.7" height="48.78" fill="#2b4c8c"/>
<rect x="359.72" y="340.02" width="9.7" height="2.54" fill="#bf1238"/>
<path d="M364.57 340.02V309.92M361.57 309.92H367.57" stroke="#3f4a6e" stroke-width="1.3" fill="none"/>
<path d="M364.57 391.34V383.63M361.57 383.63H367.57" stroke="#86b27a" stroke-width="1.1" fill="none"/>
<text x="370.77" y="421.7" font-size="9.5" fill="#3a3a3a" text-anchor="end" transform="rotate(-45 370.77 421.7)">1.28</text>
<rect x="372.46" y="386.26" width="9.7" height="26.84" fill="#68ac3e"/>
<rect x="372.46" y="356.16" width="9.7" height="30.1" fill="#2b4c8c"/>
<rect x="372.46" y="353.62" width="9.7" height="2.54" fill="#bf1238"/>
<path d="M377.31 353.62V350.72M374.31 350.72H380.31" stroke="#3f4a6e" stroke-width="1.3" fill="none"/>
<path d="M377.31 386.26V376.65M374.31 376.65H380.31" stroke="#86b27a" stroke-width="1.1" fill="none"/>
<text x="383.51" y="421.7" font-size="9.5" fill="#3a3a3a" text-anchor="end" transform="rotate(-45 383.51 421.7)">6.4</text>
<rect x="385.2" y="393.15" width="9.7" height="19.95" fill="#68ac3e"/>
<rect x="385.2" y="361.33" width="9.7" height="31.82" fill="#2b4c8c"/>
<rect x="385.2" y="358.7" width="9.7" height="2.63" fill="#bf1238"/>
<path d="M390.05 358.7V345.19M387.05 345.19H393.05" stroke="#3f4a6e" stroke-width="1.3" fill="none"/>
<path d="M390.05 393.15V382.36M387.05 382.36H393.05" stroke="#86b27a" stroke-width="1.1" fill="none"/>
<text x="396.25" y="421.7" font-size="9.5" fill="#3a3a3a" text-anchor="end" transform="rotate(-45 396.25 421.7)">32</text>
<rect x="397.94" y="400.95" width="9.7" height="12.15" fill="#68ac3e"/>
<rect x="397.94" y="386.99" width="9.7" height="13.96" fill="#2b4c8c"/>
<rect x="397.94" y="386.63" width="9.7" height="0.36" fill="#bf1238"/>
<path d="M402.79 386.63V381.91M399.79 381.91H405.79" stroke="#3f4a6e" stroke-width="1.3" fill="none"/>
<path d="M402.79 400.95V396.51M399.79 396.51H405.79" stroke="#86b27a" stroke-width="1.1" fill="none"/>
<text x="408.99" y="421.7" font-size="9.5" fill="#3a3a3a" text-anchor="end" transform="rotate(-45 408.99 421.7)">160</text>
<rect x="410.68" y="409.38" width="9.7" height="3.72" fill="#68ac3e"/>
<rect x="410.68" y="407.48" width="9.7" height="1.9" fill="#2b4c8c"/>
<rect x="410.68" y="407.3" width="9.7" height="0.18" fill="#bf1238"/>
<path d="M415.53 407.3V405.48M412.53 405.48H418.53" stroke="#3f4a6e" stroke-width="1.3" fill="none"/>
<text x="421.73" y="421.7" font-size="9.5" fill="#3a3a3a" text-anchor="end" transform="rotate(-45 421.73 421.7)">800</text>
<rect x="436.16" y="376.02" width="9.7" height="37.08" fill="#68ac3e"/>
<rect x="436.16" y="354.62" width="9.7" height="21.4" fill="#2b4c8c"/>
<rect x="436.16" y="352.35" width="9.7" height="2.27" fill="#bf1238"/>
<path d="M441.01 352.35V340.75M438.01 340.75H444.01" stroke="#3f4a6e" stroke-width="1.3" fill="none"/>
<path d="M441.01 376.02V351.45M438.01 351.45H444.01" stroke="#86b27a" stroke-width="1.1" fill="none"/>
<text x="447.21" y="421.7" font-size="9.5" fill="#3a3a3a" text-anchor="end" transform="rotate(-45 447.21 421.7)">0.256</text>
<rect x="448.9" y="388.8" width="9.7" height="24.3" fill="#68ac3e"/>
<rect x="448.9" y="357.25" width="9.7" height="31.55" fill="#2b4c8c"/>
<rect x="448.9" y="356.8" width="9.7" height="0.45" fill="#bf1238"/>
<path d="M453.75 356.8V340.02M450.75 340.02H456.75" stroke="#3f4a6e" stroke-width="1.3" fill="none"/>
<path d="M453.75 388.8V370.85M450.75 370.85H456.75" stroke="#86b27a" stroke-width="1.1" fill="none"/>
<text x="459.95" y="421.7" font-size="9.5" fill="#3a3a3a" text-anchor="end" transform="rotate(-45 459.95 421.7)">1.28</text>
<rect x="461.64" y="393.97" width="9.7" height="19.13" fill="#68ac3e"/>
<rect x="461.64" y="359.24" width="9.7" height="34.73" fill="#2b4c8c"/>
<rect x="461.64" y="359.06" width="9.7" height="0.18" fill="#bf1238"/>
<path d="M466.49 359.06V340.02M463.49 340.02H469.49" stroke="#3f4a6e" stroke-width="1.3" fill="none"/>
<path d="M466.49 393.97V386.26M463.49 386.26H469.49" stroke="#86b27a" stroke-width="1.1" fill="none"/>
<text x="472.69" y="421.7" font-size="9.5" fill="#3a3a3a" text-anchor="end" transform="rotate(-45 472.69 421.7)">6.4</text>
<rect x="474.38" y="400.32" width="9.7" height="12.78" fill="#68ac3e"/>
<rect x="474.38" y="375.2" width="9.7" height="25.11" fill="#2b4c8c"/>
<rect x="474.38" y="374.2" width="9.7" height="1" fill="#bf1238"/>
<path d="M479.23 374.2V359.7M476.23 359.7H482.23" stroke="#3f4a6e" stroke-width="1.3" fill="none"/>
<path d="M479.23 400.32V394.79M476.23 394.79H482.23" stroke="#86b27a" stroke-width="1.1" fill="none"/>
<text x="485.43" y="421.7" font-size="9.5" fill="#3a3a3a" text-anchor="end" transform="rotate(-45 485.43 421.7)">32</text>
<rect x="487.12" y="403.4" width="9.7" height="9.7" fill="#68ac3e"/>
<rect x="487.12" y="390.52" width="9.7" height="12.87" fill="#2b4c8c"/>
<rect x="487.12" y="389.53" width="9.7" height="1" fill="#bf1238"/>
<path d="M491.97 403.4V401.59M488.97 401.59H494.97" stroke="#86b27a" stroke-width="1.1" fill="none"/>
<text x="498.17" y="421.7" font-size="9.5" fill="#3a3a3a" text-anchor="end" transform="rotate(-45 498.17 421.7)">160</text>
<rect x="499.86" y="410.11" width="9.7" height="2.99" fill="#68ac3e"/>
<rect x="499.86" y="406.84" width="9.7" height="3.26" fill="#2b4c8c"/>
<rect x="499.86" y="406.75" width="9.7" height="0.09" fill="#bf1238"/>
<path d="M504.71 406.75V404.21M501.71 404.21H507.71" stroke="#3f4a6e" stroke-width="1.3" fill="none"/>
<text x="510.91" y="421.7" font-size="9.5" fill="#3a3a3a" text-anchor="end" transform="rotate(-45 510.91 421.7)">800</text>
<path d="M320.5 273.9V413.1H510.7" stroke="#000" stroke-width="1.4" fill="none"/>
<path d="M316.9 413.1H320.5" stroke="#000" stroke-width="1.3"/>
<text transform="translate(313.5 416) scale(0.94 1)" font-size="9.8" fill="#3a3a3a" text-anchor="end">0</text>
<path d="M316.9 367.77H320.5" stroke="#000" stroke-width="1.3"/>
<text transform="translate(313.5 370.67) scale(0.94 1)" font-size="9.8" fill="#3a3a3a" text-anchor="end">500</text>
<path d="M316.9 322.43H320.5" stroke="#000" stroke-width="1.3"/>
<text transform="translate(313.5 325.33) scale(0.94 1)" font-size="9.8" fill="#3a3a3a" text-anchor="end">1000</text>
<path d="M316.9 277.1H320.5" stroke="#000" stroke-width="1.3"/>
<text transform="translate(313.5 280) scale(0.94 1)" font-size="9.8" fill="#3a3a3a" text-anchor="end">1500</text>
<text x="286.3" y="342.9" font-size="10.5" fill="#3a3a3a" text-anchor="middle" textLength="77" lengthAdjust="spacingAndGlyphs" transform="rotate(-90 286.3 342.9)">Number of colonies</text>
<path d="M339.78 443.3H418.28" stroke="#000" stroke-width="1.3"/>
<text x="379.03" y="455.3" font-size="9.7" fill="#3a3a3a" text-anchor="middle">FF-10101 (nM)</text>
<path d="M428.96 443.3H507.46" stroke="#000" stroke-width="1.3"/>
<text x="468.21" y="455.3" font-size="9.7" fill="#3a3a3a" text-anchor="middle">Quizartinib (nM)</text>
</g>
<path d="M0 0H520V466H0Z M1.3 1.3V464.2H518.1V1.3Z" fill="#000" fill-rule="evenodd"/>
</svg>
</body></html>
